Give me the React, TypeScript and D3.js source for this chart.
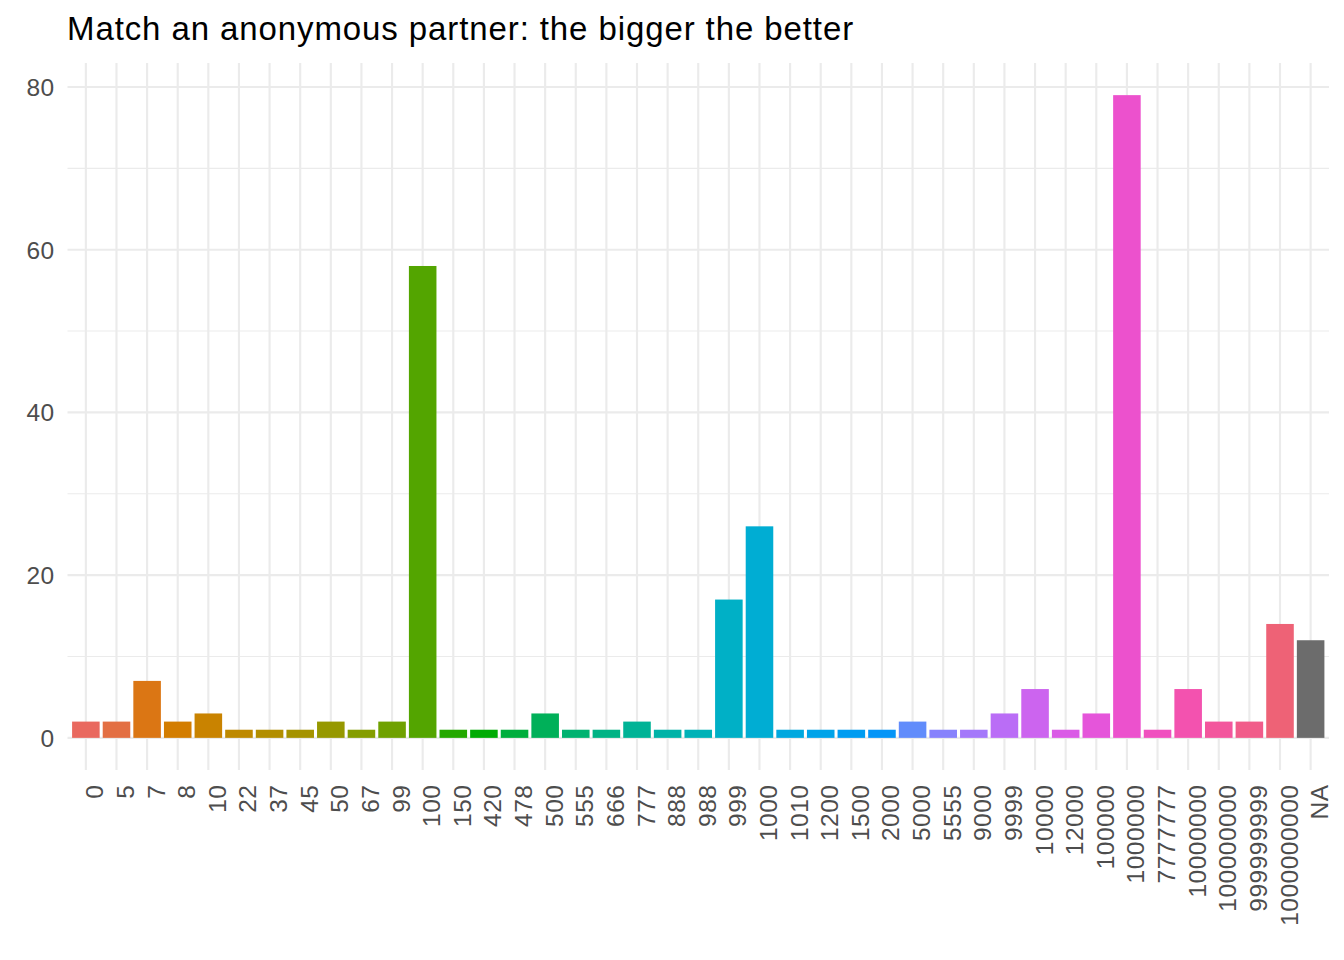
import React, { useRef, useEffect } from 'react';
import * as d3 from 'd3';

const categories = [
  '0', '5', '7', '8', '10', '22', '37', '45', '50', '67', '99', '100', '150', '420', '478',
  '500', '555', '666', '777', '888', '988', '999', '1000', '1010', '1200', '1500', '2000',
  '5000', '5555', '9000', '9999', '10000', '12000', '100000', '1000000', '7777777',
  '10000000', '100000000', '999999999', '1000000000', 'NA',
];

const counts = [
  2, 2, 7, 2, 3, 1, 1, 1, 2, 1, 2, 58, 1, 1, 1,
  3, 1, 1, 2, 1, 1, 17, 26, 1, 1, 1, 1,
  2, 1, 1, 3, 6, 1, 3, 79, 1,
  6, 2, 2, 14, 12,
];

const yTicks = [0, 20, 40, 60, 80];
const yMinor = [10, 30, 50, 70];

// R's hcl() (polar Luv) -> hex, so the hues follow ggplot's hue palette
const hcl = (h: number, c: number, l: number) => {
  const hr = (h * Math.PI) / 180;
  const U = c * Math.cos(hr);
  const V = c * Math.sin(hr);
  const Xn = 0.95047, Yn = 1, Zn = 1.08883;
  const den = Xn + 15 * Yn + 3 * Zn;
  const un = (4 * Xn) / den, vn = (9 * Yn) / den;
  const Y = l > 8 ? Yn * Math.pow((l + 16) / 116, 3) : (Yn * l) / 903.3;
  const u = U / (13 * l) + un;
  const v = V / (13 * l) + vn;
  const X = (Y * 9 * u) / (4 * v);
  const Z = (Y * (12 - 3 * u - 20 * v)) / (4 * v);
  const gam = (t: number) => {
    const g = t <= 0.0031308 ? 12.92 * t : 1.055 * Math.pow(t, 1 / 2.4) - 0.055;
    return Math.round(Math.max(0, Math.min(1, g)) * 255);
  };
  const r = 3.240479 * X - 1.53715 * Y - 0.498535 * Z;
  const gg = -0.969256 * X + 1.875992 * Y + 0.041556 * Z;
  const b = 0.055648 * X - 0.204043 * Y + 1.057311 * Z;
  return d3.rgb(gam(r), gam(gg), gam(b)).formatHex();
};

const App = () => {
  const svgRef = useRef<SVGSVGElement>(null);

  useEffect(() => {
    document.body.style.margin = '0';
    const svg = d3.select(svgRef.current);
    svg.selectAll('*').remove();

    const panel = { left: 67.5, right: 1329, top: 63, bottom: 770 };
    const font = "'Liberation Sans', Arial, Helvetica, sans-serif";

    const x = d3.scalePoint<string>()
      .domain(categories)
      .range([panel.left, panel.right])
      .padding(0.6);

    const yMax = d3.max(counts) as number;
    const y = d3.scaleLinear()
      .domain([-0.05 * yMax, yMax * 1.05])
      .range([panel.bottom, panel.top]);

    const nHue = categories.length - 1;
    const hues = d3.range(nHue).map(i => 15 + (360 / nHue) * i);
    const color = d3.scaleOrdinal<string, string>()
      .domain(categories)
      .range([...hues.map(h => hcl(h, 100, 60)), '#6c6c6c']);

    // minor grid
    svg.append('g')
      .selectAll('line')
      .data(yMinor)
      .join('line')
      .attr('x1', panel.left).attr('x2', panel.right)
      .attr('y1', d => y(d)).attr('y2', d => y(d))
      .attr('stroke', '#ebebeb').attr('stroke-width', 1.07);

    // major grid
    svg.append('g')
      .selectAll('line')
      .data(yTicks)
      .join('line')
      .attr('x1', panel.left).attr('x2', panel.right)
      .attr('y1', d => y(d)).attr('y2', d => y(d))
      .attr('stroke', '#ebebeb').attr('stroke-width', 2.13);

    svg.append('g')
      .selectAll('line')
      .data(categories)
      .join('line')
      .attr('x1', d => x(d)!).attr('x2', d => x(d)!)
      .attr('y1', panel.top).attr('y2', panel.bottom)
      .attr('stroke', '#ebebeb').attr('stroke-width', 2.13);

    // bars
    const barW = x.step() * 0.9;
    svg.append('g')
      .selectAll('rect')
      .data(categories)
      .join('rect')
      .attr('x', d => x(d)! - barW / 2)
      .attr('width', barW)
      .attr('y', (d, i) => y(counts[i]))
      .attr('height', (d, i) => y(0) - y(counts[i]))
      .attr('fill', d => color(d));

    // y axis labels
    svg.append('g')
      .selectAll('text')
      .data(yTicks)
      .join('text')
      .attr('x', 54.5)
      .attr('y', d => y(d))
      .attr('dy', '0.36em')
      .attr('text-anchor', 'end')
      .attr('font-family', font)
      .attr('font-size', 24.5)
      .attr('letter-spacing', 0.4)
      .attr('fill', '#4d4d4d')
      .text(d => d);

    // x axis labels, rotated
    svg.append('g')
      .selectAll('text')
      .data(categories)
      .join('text')
      .attr('transform', d => `translate(${x(d)! + 17.5},784.5) rotate(-90)`)
      .attr('text-anchor', 'end')
      .attr('font-family', font)
      .attr('font-size', 24.5)
      .attr('letter-spacing', 0.5)
      .attr('fill', '#4d4d4d')
      .text(d => d);

    // title
    svg.append('text')
      .attr('x', 67)
      .attr('y', 40)
      .attr('font-family', font)
      .attr('font-size', 33)
      .attr('letter-spacing', 0.9)
      .attr('fill', '#000')
      .text('Match an anonymous partner: the bigger the better');
  }, []);

  return (
    <svg ref={svgRef} width="1344" height="960" style={{ display: 'block', background: '#fff' }}></svg>
  );
};

export default App;
